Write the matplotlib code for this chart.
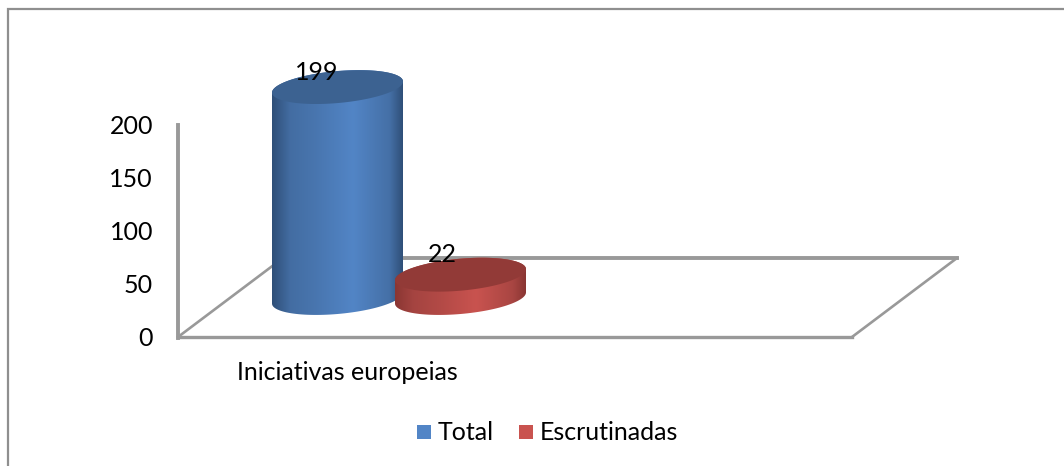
import numpy as np
import matplotlib
matplotlib.use("Agg")
import matplotlib.pyplot as plt
from matplotlib.colors import LinearSegmentedColormap, to_rgb
from matplotlib.patches import Polygon, Rectangle

categories = ["Iniciativas europeias"]
series_names = ["Total", "Escrutinadas"]
series_values = [199, 22]
y_ticks = [0, 50, 100, 150, 200]

colors = ["#5285c6", "#c9534f"]
top_colors = ["#3c6291", "#923a37"]
edge_colors = ["#2f4f78", "#8a3633"]
grey = "#999999"

W, H = 1064, 466
plt.rcParams["font.family"] = ["Lato", "DejaVu Sans"]
FS = 18

# y axis: value 0 sits at pixel row 337, 1 unit is 1.06 px
def to_val(py):
    return (337 - py) / 1.06

fig = plt.figure(figsize=(W / 100, H / 100), dpi=100)
ax = fig.add_axes([0, 0, 1, 1])
ax.set_xlim(0, W)
ax.set_ylim(to_val(H), to_val(0))
ax.axis("off")

# outer frame, only left and top are visible
ax.plot([8, 8, W + 5], [to_val(470), to_val(9), to_val(9)], color="#8f8f8f", lw=1.6, solid_joinstyle="miter")

# floor and value axis
ax.plot([178, 852], [to_val(337), to_val(337)], color=grey, lw=2.4)
ax.plot([283, 957], [to_val(258), to_val(258)], color=grey, lw=2.8)
ax.plot([178, 283], [to_val(337), to_val(258)], color=grey, lw=1.9)
ax.plot([852, 957], [to_val(337), to_val(258)], color=grey, lw=1.9)
ax.plot([178, 178], [to_val(338), y_ticks[-1]], color=grey, lw=2.8)

for v in y_ticks:
    ax.text(153, v - 1.5, str(v), ha="right", va="center", fontsize=FS, color="black")


def draw_cylinder(left, base_py, value, color, top_color, edge):
    # tilted ellipse, same shape on top and on the base
    a = 65.5
    b = 16.0
    tilt = 0.085
    cx = left + a
    t = np.linspace(0, 2 * np.pi, 121)
    ex = cx + a * np.cos(t)
    ey = (b * np.sin(t) + tilt * (ex - cx)) / 1.06
    base = to_val(base_py)
    top = base + value

    # side = upper arc at the top value + lower arc at the base
    upper = t <= np.pi
    lower = t >= np.pi
    sx = np.concatenate([ex[upper], ex[lower]])
    sy = np.concatenate([top + ey[upper], base + ey[lower]])
    side = Polygon(np.column_stack([sx, sy]), closed=True, fc="none", ec="none")
    ax.add_patch(side)

    rgb = np.array(to_rgb(color))
    cmap = LinearSegmentedColormap.from_list(
        "c", [(0, edge), (0.14, rgb * 0.82), (0.35, rgb * 0.89), (0.62, color), (0.9, rgb * 0.84), (1, edge)])
    grad = np.linspace(0, 1, 256).reshape(1, -1)
    im = ax.imshow(grad, cmap=cmap, aspect="auto", interpolation="bilinear",
                   extent=[left, left + 2 * a, base - 40, top + 40], zorder=3)
    im.set_clip_path(side)
    ax.set_xlim(0, W)
    ax.set_ylim(to_val(H), to_val(0))

    ax.add_patch(Polygon(np.column_stack([ex, top + ey]), closed=True, fc=top_color, ec="none", zorder=4))


lefts = [272, 395]
for i in range(len(series_values)):
    draw_cylinder(lefts[i], 298, series_values[i], colors[i], top_colors[i], edge_colors[i])

# data labels
ax.text(317, to_val(72), str(series_values[0]), ha="center", va="center", fontsize=FS, color="black", zorder=5)
ax.text(442, to_val(254), str(series_values[1]), ha="center", va="center", fontsize=FS, color="black", zorder=5)

# category label
ax.text(347, to_val(373), categories[0], ha="center", va="center", fontsize=FS, color="black")

# legend
for px, name, c in zip([417, 519], series_names, colors):
    ax.add_patch(Rectangle((px, to_val(439)), 14, 14 / 1.06, fc=c, ec="none"))
    ax.text(px + 21, to_val(433), name, ha="left", va="center", fontsize=FS, color="black")

fig.savefig("out.png", dpi=100)
